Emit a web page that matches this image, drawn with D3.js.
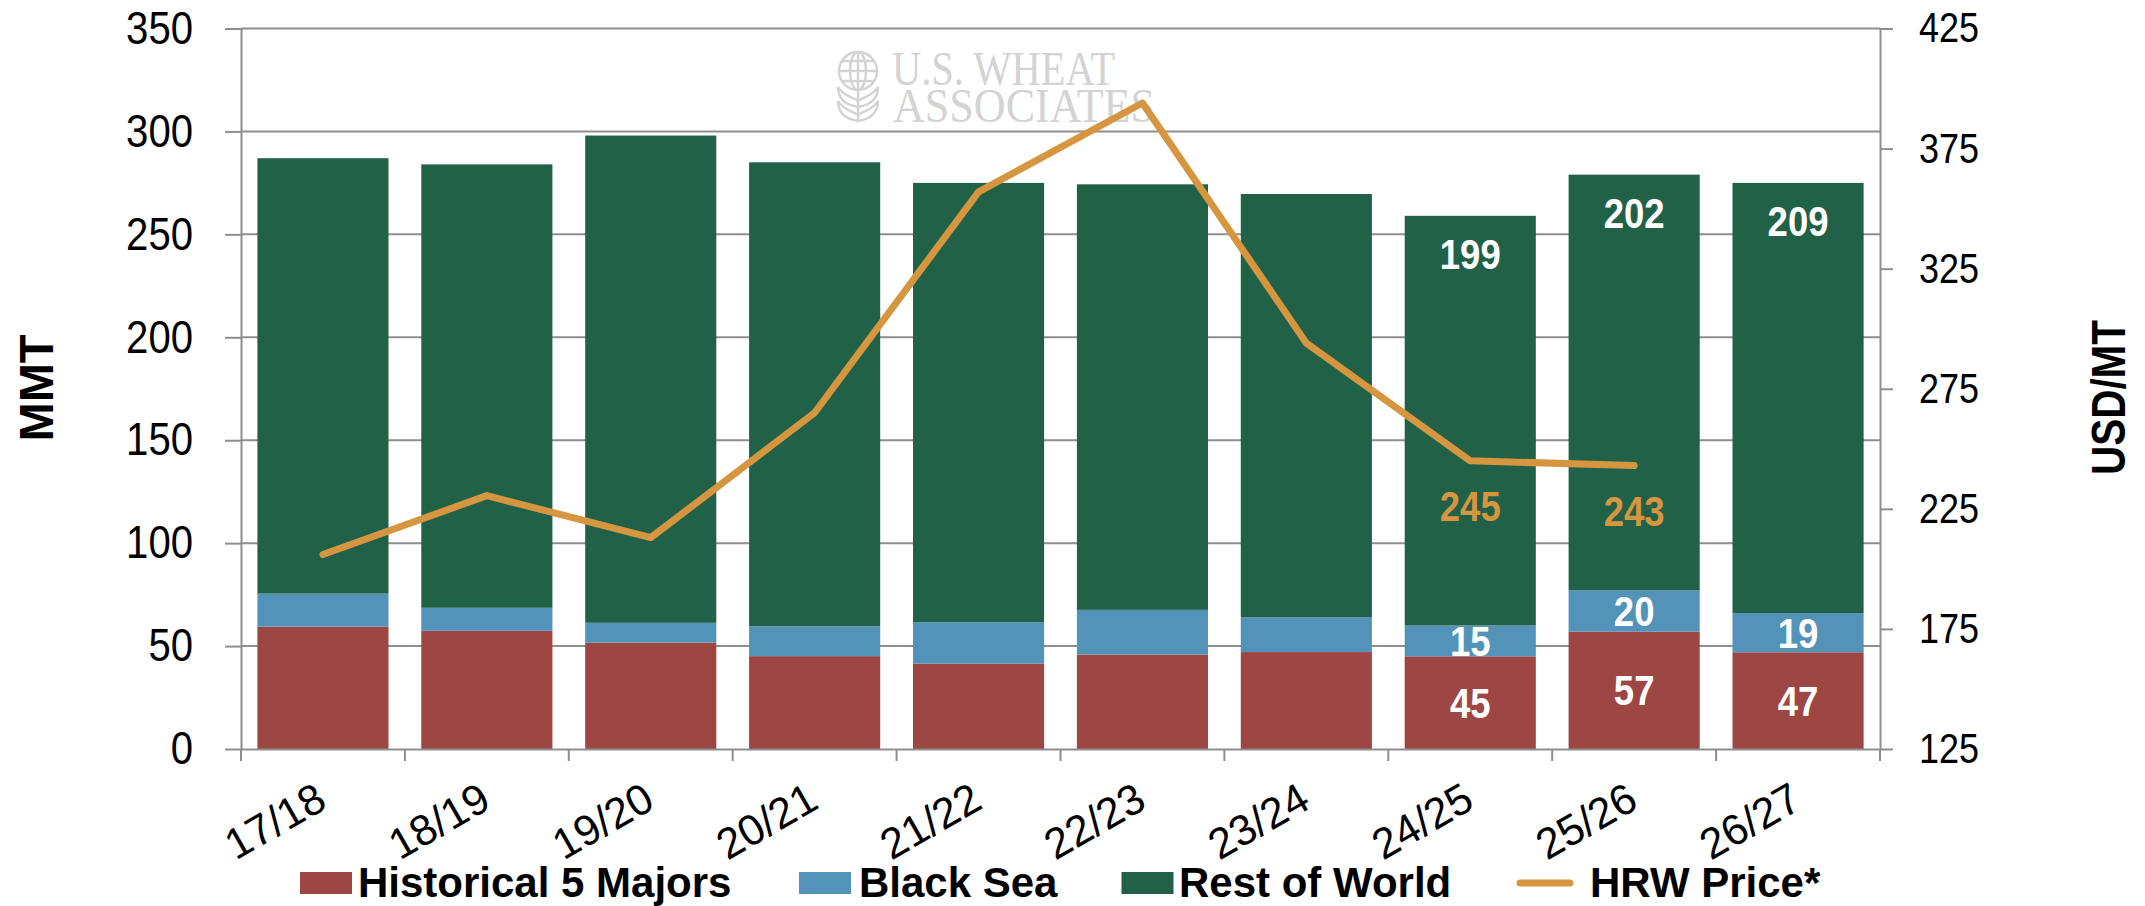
<!DOCTYPE html>
<html>
<head>
<meta charset="utf-8">
<script src="https://cdn.jsdelivr.net/npm/d3@7"></script>
<style>
  html, body { margin: 0; padding: 0; background: #ffffff; }
  svg { display: block; }
</style>
</head>
<body>
<svg id="chart" width="2145" height="906"></svg>
<script>
// ---------------- DATA ----------------
const categories = ["17/18", "18/19", "19/20", "20/21", "21/22", "22/23", "23/24", "24/25", "25/26", "26/27"];
const historical5Majors = [59.4, 57.4, 51.7, 45.1, 41.5, 45.9, 47.1, 45, 57, 47];
const blackSea = [16.1, 11.2, 9.6, 14.5, 20.1, 21.7, 16.9, 15, 20, 19];
const restOfWorld = [211.5, 215.4, 236.7, 225.4, 213.4, 206.7, 205.6, 199, 202, 209];
const hrwPrice = [206, 230.5, 213, 265, 357, 394, 294, 245, 243, null];
const labelledStackSeasons = ["24/25", "25/26", "26/27"];
const labelledPriceSeasons = ["24/25", "25/26"];
const leftTicks = [0, 50, 100, 150, 200, 250, 300, 350];
const rightTicks = [125, 175, 225, 275, 325, 375, 425];
const seriesNames = ["Historical 5 Majors", "Black Sea", "Rest of World", "HRW Price*"];
const logoLines = ["U.S. WHEAT", "ASSOCIATES"];

// ---------------- STYLE ----------------
const COLORS = { hist: "#9E4644", bs: "#5392B9", row: "#216148", price: "#D6963F", grid: "#8E8E8E" };
const SANS = "'Liberation Sans', Arial, Helvetica, sans-serif";

const svg = d3.select("#chart");
const L = 241, R = 1880, T = 28.5, B = 749;

const x = d3.scaleBand().domain(categories).range([L, R]).paddingInner(0.2).paddingOuter(0.1);
const y = d3.scaleLinear().domain([0, 350]).range([B, T]);
const y2 = d3.scaleLinear().domain([125, 425]).range([B, T]);
const cx = c => x(c) + x.bandwidth() / 2;

// ---------------- LOGO (watermark) ----------------
const logo = svg.append("g").attr("fill", "none").attr("stroke", "#d3d3d3").attr("stroke-width", 2.4);
const icon = logo.append("g").attr("transform", "translate(858,71)");
icon.append("circle").attr("r", 19);
icon.append("ellipse").attr("rx", 8).attr("ry", 19);
icon.append("line").attr("x1", 0).attr("x2", 0).attr("y1", -19).attr("y2", 19);
icon.append("line").attr("x1", -19).attr("x2", 19).attr("y1", 0).attr("y2", 0);
icon.append("line").attr("x1", -16).attr("x2", 16).attr("y1", -10).attr("y2", -10);
icon.append("line").attr("x1", -16).attr("x2", 16).attr("y1", 10).attr("y2", 10);
icon.append("line").attr("x1", 0).attr("x2", 0).attr("y1", 19).attr("y2", 50);
const leaf = (s, yy) => `M0,${yy} C${s*6},${yy-4} ${s*16},${yy-6} ${s*20},${yy-14} C${s*20},${yy-2} ${s*12},${yy+4} 0,${yy+6}`;
[[-1, 30], [1, 30], [-1, 44], [1, 44]].forEach(([s, yy]) => icon.append("path").attr("d", leaf(s, yy)));
const logoText = svg.append("text").attr("font-family", "'Liberation Serif', 'Times New Roman', serif")
  .attr("font-size", 48).attr("fill", "#d3d3d3");
logoText.append("tspan").attr("x", 892).attr("y", 85).attr("textLength", 223).attr("lengthAdjust", "spacingAndGlyphs").text(logoLines[0]);
logoText.append("tspan").attr("x", 893).attr("y", 122).attr("textLength", 262).attr("lengthAdjust", "spacingAndGlyphs").text(logoLines[1]);

// ---------------- GRID ----------------
svg.append("g").selectAll("line").data(leftTicks.filter(v => v > 0)).join("line")
  .attr("x1", L).attr("x2", R).attr("y1", d => y(d)).attr("y2", d => y(d))
  .attr("stroke", COLORS.grid).attr("stroke-width", 2);

// ---------------- BARS ----------------
const table = categories.map((c, i) => ({ season: c, hist: historical5Majors[i], bs: blackSea[i], row: restOfWorld[i] }));
const stack = d3.stack().keys(["hist", "bs", "row"])(table);
const bars = svg.append("g");
stack.forEach(layer => {
  bars.append("g").attr("fill", COLORS[layer.key]).selectAll("rect").data(layer).join("rect")
    .attr("x", d => x(d.data.season)).attr("width", x.bandwidth())
    .attr("y", d => y(d[1])).attr("height", d => y(d[0]) - y(d[1]));
});

// ---------------- AXES ----------------
function styleAxis(g) {
  g.selectAll(".domain").attr("stroke", COLORS.grid).attr("stroke-width", 2);
  g.selectAll(".tick line").attr("stroke", COLORS.grid).attr("stroke-width", 2);
}
const leftAxis = svg.append("g").attr("transform", `translate(${L},0)`)
  .call(d3.axisLeft(y).tickValues(leftTicks).tickSize(16).tickPadding(32).tickSizeOuter(0));
styleAxis(leftAxis);
leftAxis.selectAll("text").attr("font-family", SANS).attr("font-size", 46).attr("fill", "#000")
  .attr("textLength", d => String(d).length * 22.3).attr("lengthAdjust", "spacingAndGlyphs");

const rightAxis = svg.append("g").attr("transform", `translate(${R},0)`)
  .call(d3.axisRight(y2).tickValues(rightTicks).tickSize(13).tickPadding(26).tickSizeOuter(0));
styleAxis(rightAxis);
rightAxis.selectAll("text").attr("font-family", SANS).attr("font-size", 42).attr("fill", "#000")
  .attr("textLength", d => String(d).length * 20).attr("lengthAdjust", "spacingAndGlyphs");

const bottomAxis = svg.append("g").attr("transform", `translate(0,${B})`)
  .call(d3.axisBottom(x).tickSize(0).tickSizeOuter(0));
bottomAxis.select(".domain").attr("stroke", COLORS.grid).attr("stroke-width", 2);
bottomAxis.selectAll("text").attr("font-family", SANS).attr("font-size", 43).attr("fill", "#000")
  .attr("y", 0).attr("dy", 0).attr("text-anchor", "end").attr("transform", "translate(6,58) rotate(-30)");
// category boundary ticks
svg.append("g").selectAll("line").data(d3.range(categories.length + 1)).join("line")
  .attr("x1", i => L + i * x.step()).attr("x2", i => L + i * x.step())
  .attr("y1", B).attr("y2", B + 12).attr("stroke", COLORS.grid).attr("stroke-width", 2);

// axis titles
svg.append("text").attr("transform", "translate(52.5,388) rotate(-90)").attr("text-anchor", "middle")
  .attr("font-family", SANS).attr("font-weight", "bold").attr("font-size", 48).attr("textLength", 107)
  .attr("lengthAdjust", "spacingAndGlyphs").text("MMT");
svg.append("text").attr("transform", "translate(2124.5,397.5) rotate(-90)").attr("text-anchor", "middle")
  .attr("font-family", SANS).attr("font-weight", "bold").attr("font-size", 48).attr("textLength", 155)
  .attr("lengthAdjust", "spacingAndGlyphs").text("USD/MT");

// ---------------- PRICE LINE ----------------
const line = d3.line().defined(d => d.v != null).x(d => cx(d.c)).y(d => y2(d.v));
svg.append("path").datum(categories.map((c, i) => ({ c, v: hrwPrice[i] })))
  .attr("d", line).attr("fill", "none").attr("stroke", COLORS.price).attr("stroke-width", 7)
  .attr("stroke-linecap", "round").attr("stroke-linejoin", "round");

// ---------------- DATA LABELS ----------------
const lab = svg.append("g").attr("font-family", SANS).attr("font-weight", "bold").attr("text-anchor", "middle");
function addLabel(xp, yp, txt, fill, size) {
  lab.append("text").attr("x", xp).attr("y", yp).attr("fill", fill).attr("font-size", size)
    .attr("textLength", txt.length * 20.3).attr("lengthAdjust", "spacingAndGlyphs").text(txt);
}
stack.forEach(layer => {
  layer.forEach(d => {
    if (!labelledStackSeasons.includes(d.data.season)) return;
    const val = String(Math.round(d[1] - d[0]));
    const xp = cx(d.data.season);
    if (layer.key === "row") addLabel(xp, y(d[1]) + 53, val, "#fff", 42);
    else addLabel(xp, (y(d[0]) + y(d[1])) / 2 + 15, val, "#fff", 42);
  });
});
categories.forEach((c, i) => {
  if (!labelledPriceSeasons.includes(c)) return;
  addLabel(cx(c), y2(hrwPrice[i]) + 60, String(hrwPrice[i]), COLORS.price, 43);
});

// ---------------- LEGEND ----------------
const leg = svg.append("g").attr("font-family", SANS).attr("font-weight", "bold").attr("font-size", 42).attr("fill", "#000");
const legendItems = [
  { name: seriesNames[0], type: "rect", color: COLORS.hist, sx: 300, tx: 358 },
  { name: seriesNames[1], type: "rect", color: COLORS.bs, sx: 799, tx: 859 },
  { name: seriesNames[2], type: "rect", color: COLORS.row, sx: 1121.5, tx: 1179 },
  { name: seriesNames[3], type: "line", color: COLORS.price, sx: 1517, tx: 1590 }
];
legendItems.forEach(it => {
  if (it.type === "rect") {
    leg.append("rect").attr("x", it.sx).attr("y", 872).attr("width", 52).attr("height", 22).attr("fill", it.color);
  } else {
    leg.append("line").attr("x1", it.sx + 3).attr("x2", it.sx + 53).attr("y1", 883).attr("y2", 883)
      .attr("stroke", it.color).attr("stroke-width", 7).attr("stroke-linecap", "round");
  }
  leg.append("text").attr("x", it.tx).attr("y", 896.5).text(it.name);
});
</script>
</body>
</html>
